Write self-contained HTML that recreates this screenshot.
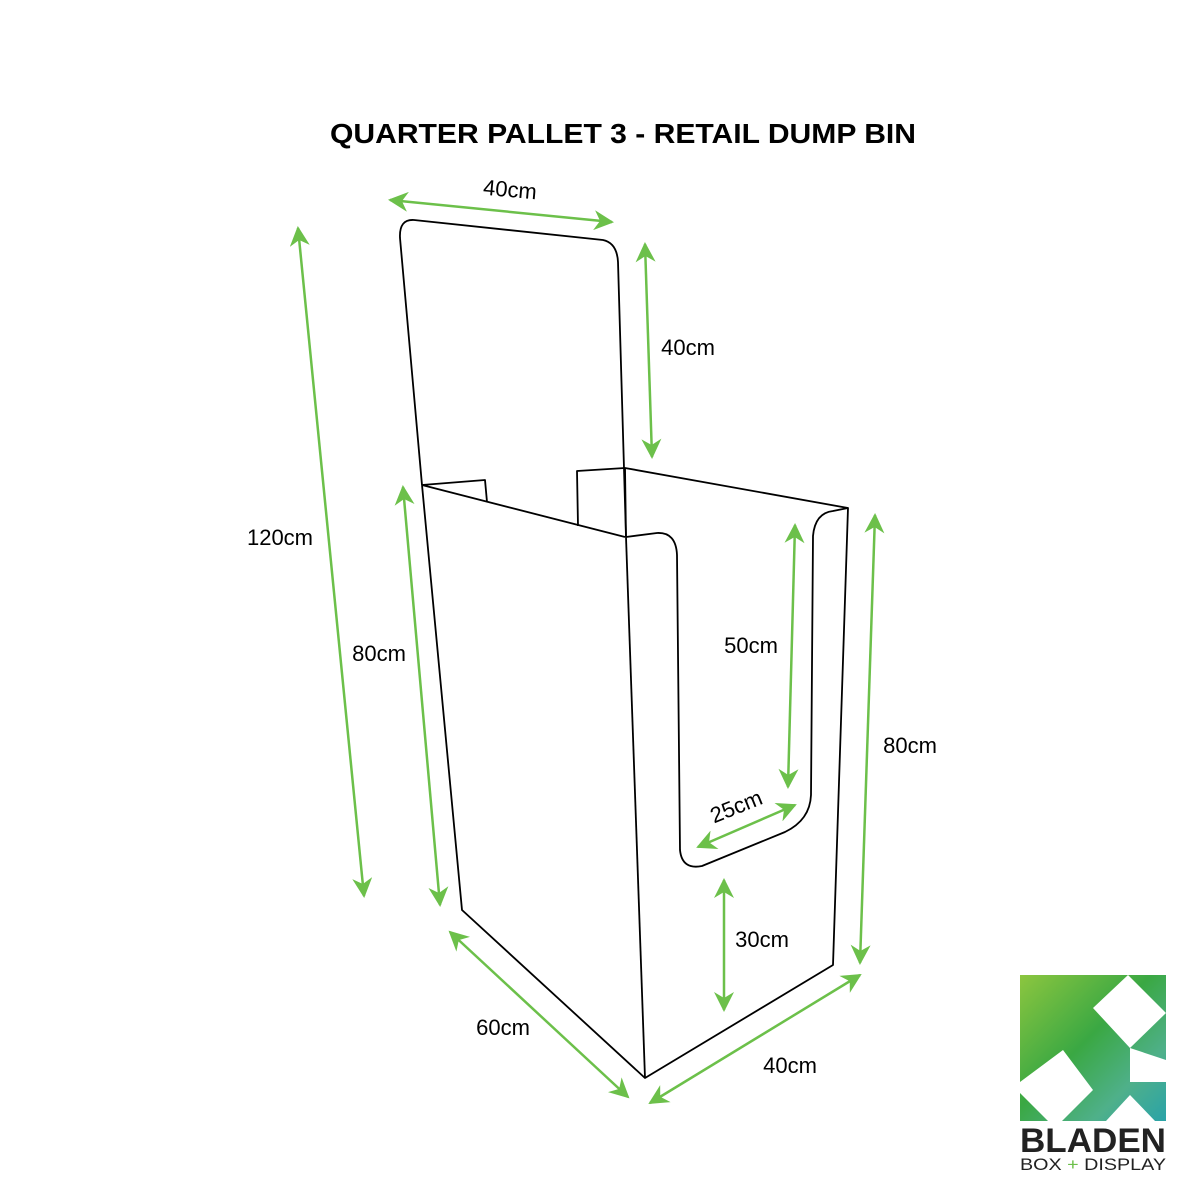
<!DOCTYPE html>
<html><head><meta charset="utf-8"><style>
html,body{margin:0;padding:0;background:#fff;}
svg{display:block}
text{font-family:"Liberation Sans",sans-serif;}
</style></head><body>
<svg width="1200" height="1200" viewBox="0 0 1200 1200" xmlns="http://www.w3.org/2000/svg">
<defs>
<marker id="a" viewBox="0 0 10 10" refX="9" refY="5" markerWidth="22" markerHeight="20" orient="auto-start-reverse" markerUnits="userSpaceOnUse">
<path d="M0,0 L10,5 L0,10 L3,5 Z" fill="#6cc04a"/>
</marker>
<linearGradient id="lg" x1="0" y1="0" x2="1" y2="1">
<stop offset="0" stop-color="#8cc63f"/><stop offset="0.45" stop-color="#3aa843"/><stop offset="0.75" stop-color="#4fb08a"/><stop offset="1" stop-color="#2aa3a8"/>
</linearGradient>
</defs>
<text x="623" y="143" text-anchor="middle" font-size="28" font-weight="bold" fill="#000" textLength="586" lengthAdjust="spacingAndGlyphs">QUARTER PALLET 3 -  RETAIL DUMP BIN</text>

<g fill="none" stroke="#000" stroke-width="1.8" stroke-linejoin="round">
<path d="M422,485 L400,238 Q399,219 414,220 L603,240 Q617,243 618,262 L626,537"/>
<path d="M422,485 L462,910 L645,1078 L833,965 L848,508 L625,468 L626,537"/>
<path d="M422,485 L485,480 L487,502"/>
<path d="M422,485 L625,537"/>
<path d="M578,526 L577,471 L625,468"/>
<path d="M626,537 L645,1078"/>
<path d="M626,537 L657,533 Q676,532 677,555 L680,850 Q682,870 702,866 L785,832 Q810,820 811,795 L813,536 Q815,513 833,511 L848,508"/>
</g>

<g stroke="#6cc04a" stroke-width="2.5" fill="none">
<line x1="390" y1="200" x2="612" y2="222" marker-start="url(#a)" marker-end="url(#a)"/>
<line x1="645" y1="244" x2="652" y2="457" marker-start="url(#a)" marker-end="url(#a)"/>
<line x1="298" y1="228" x2="364" y2="896" marker-start="url(#a)" marker-end="url(#a)"/>
<line x1="403" y1="487" x2="440" y2="905" marker-start="url(#a)" marker-end="url(#a)"/>
<line x1="795" y1="525" x2="788" y2="787" marker-start="url(#a)" marker-end="url(#a)"/>
<line x1="698" y1="847" x2="795" y2="805" marker-start="url(#a)" marker-end="url(#a)"/>
<line x1="875" y1="515" x2="860" y2="963" marker-start="url(#a)" marker-end="url(#a)"/>
<line x1="724" y1="880" x2="724" y2="1010" marker-start="url(#a)" marker-end="url(#a)"/>
<line x1="450" y1="932" x2="628" y2="1097" marker-start="url(#a)" marker-end="url(#a)"/>
<line x1="650" y1="1103" x2="860" y2="975" marker-start="url(#a)" marker-end="url(#a)"/>
</g>

<g font-size="22" fill="#000">
<text x="510" y="197" text-anchor="middle" transform="rotate(5 510 190)">40cm</text>
<text x="688" y="355" text-anchor="middle">40cm</text>
<text x="280" y="545" text-anchor="middle">120cm</text>
<text x="379" y="661" text-anchor="middle">80cm</text>
<text x="751" y="653" text-anchor="middle">50cm</text>
<text x="736" y="814" text-anchor="middle" transform="rotate(-22 736 806)">25cm</text>
<text x="910" y="753" text-anchor="middle">80cm</text>
<text x="762" y="947" text-anchor="middle">30cm</text>
<text x="503" y="1035" text-anchor="middle">60cm</text>
<text x="790" y="1073" text-anchor="middle">40cm</text>
</g>

<g>
<rect x="1020" y="975" width="146" height="146" fill="url(#lg)"/>
<polygon points="1020,1080 1063,1058 1093,1088 1063,1121 1020,1121" fill="#fff" opacity="0"/>
<polygon points="1020,1080 1060,1060 1093,1090 1065,1121 1020,1121" fill="#fff" opacity="0"/>
<polygon points="1020,1080 1063,1048 1095,1090 1085,1100 1063,1121 1048,1121 1020,1095" fill="#fff" opacity="0"/>
<polygon points="1020,1082 1063,1050 1093,1090 1062,1121 1048,1121 1020,1093" fill="#fff"/>
<polygon points="1093,1008 1128,975 1166,1013 1130,1048" fill="#fff"/>
<polygon points="1106,1121 1130,1095 1155,1121" fill="#fff"/>
<polygon points="1130,1048 1130,1082 1166,1082 1166,1060" fill="#fff"/>
<text x="1093" y="1152" text-anchor="middle" font-size="34" font-weight="bold" fill="#222" textLength="146" lengthAdjust="spacingAndGlyphs">BLADEN</text>
<text x="1093" y="1170" text-anchor="middle" font-size="17" fill="#222" textLength="146" lengthAdjust="spacingAndGlyphs">BOX <tspan fill="#6cc04a">+</tspan> DISPLAY</text>
</g>
</svg>
</body></html>
